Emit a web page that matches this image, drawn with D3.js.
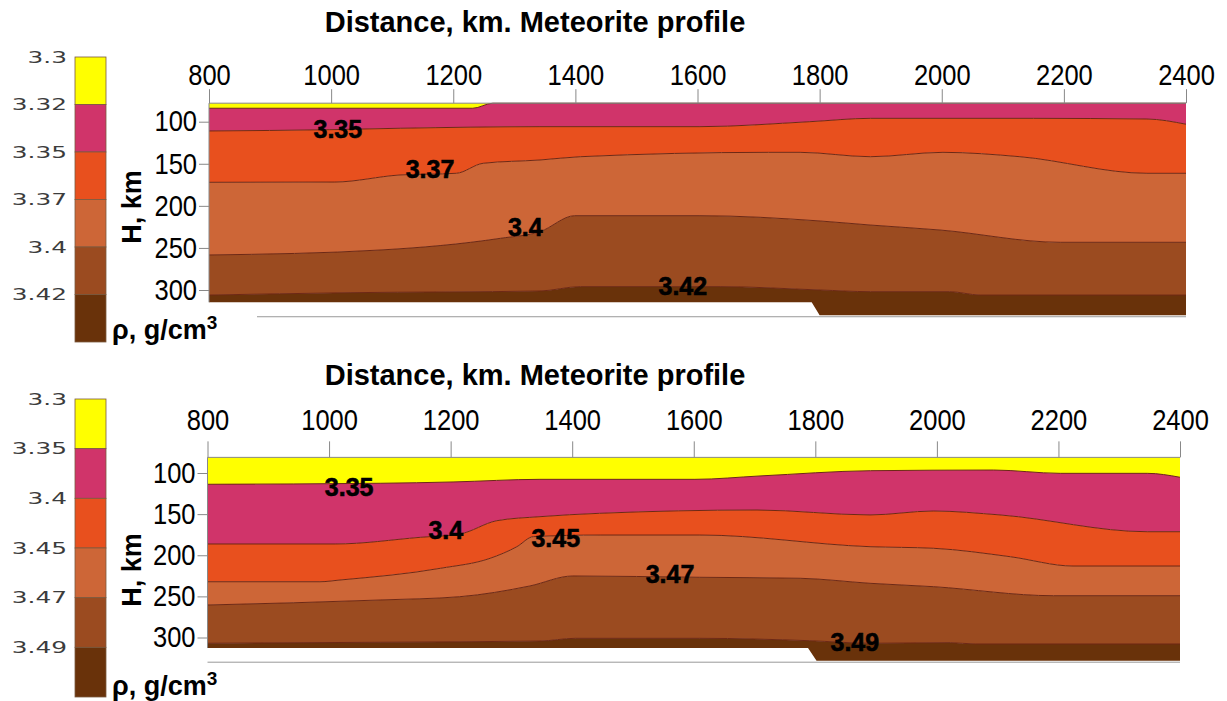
<html>
<head>
<script src="https://d3js.org/d3.v7.min.js"></script>
<style>
  body { margin: 0; background: #fff; }
  .tick text { font-family: "Liberation Sans", Arial, sans-serif; font-size: 29px; fill: #000; }
  .tick line { stroke: #888; }
  .domain { stroke: none; }
</style>
</head>
<body>
<svg id="chart" width="1227" height="701"></svg>
<script>
// distance ticks (km) and depth ticks (km)
const xTicks = [800, 1000, 1200, 1400, 1600, 1800, 2000, 2200, 2400];
const hTicks = [100, 150, 200, 250, 300];

// density legend levels
const topLevels = ["3.3", "3.32", "3.35", "3.37", "3.4", "3.42"];
const botLevels = ["3.3", "3.35", "3.4", "3.45", "3.47", "3.49"];
const bandColors = ["#ffff00", "#d0346a", "#e8501e", "#cd6637", "#9b4b20", "#69320a"];

// top section: contour lines [distance km, depth km]
const topC1 = [[800, 84], [1232, 84], [1265, 78], [2400, 78]];
const topC2 = [[800, 111], [998, 109.5], [1113, 107.8], [1342, 105.9], [1604, 105.9], [1784, 100], [1883, 96], [2150, 96], [2336, 96.8], [2400, 103]];
const topC3 = [[800, 172], [1006, 171.7], [1113, 163.3], [1205, 161.3], [1249, 149.4], [1342, 145.5], [1408, 141.6], [1716, 136.4], [1768, 136.4], [1883, 141.6], [2002, 136.4], [2128, 141.6], [2336, 161.3], [2400, 161.3]];
const topC4 = [[800, 258.4], [1080, 252.5], [1277, 238.6], [1342, 230.7], [1399, 211.7], [1604, 211.7], [1801, 218], [1883, 222.8], [1997, 228.7], [2194, 243.3], [2400, 243.3]];
const topC5 = [[800, 306], [1031, 303.2], [1342, 301.2], [1408, 296], [1637, 296], [1801, 300], [1883, 302], [2013, 302], [2063, 306], [2400, 306]];
const topBottom = [[800, 314.6], [1787, 314.6], [1800, 330], [2400, 330]];
const topLabels = [["3.35", 1011, 108.7], ["3.37", 1162, 156.2], ["3.4", 1318, 225.1], ["3.42", 1576, 295.2]];

// bottom section
const botC1 = [[800, 113.7], [1084, 112.5], [1204, 110.9], [1347, 107.7], [1602, 107.7], [1709, 103.6], [1891, 97.2], [2093, 96.4], [2203, 100.4], [2346, 100.4], [2400, 105.2]];
const botC2 = [[800, 186.3], [1010, 186.3], [1150, 178.2], [1215, 174.2], [1276, 158], [1347, 153.1], [1445, 149], [1704, 145], [1890, 151], [1994, 146.2], [2104, 151], [2346, 171.4], [2400, 171.4]];
const botC3 = [[800, 232.2], [985, 232.2], [1018, 230.1], [1183, 215.9], [1265, 203.7], [1309, 189.6], [1336, 177.4], [1446, 175.4], [1610, 175.4], [1890, 189.6], [1994, 191.5], [2121, 201.8], [2224, 213.1], [2400, 213.1]];
const botC4 = [[800, 260.5], [1084, 254.4], [1215, 250.4], [1330, 237.4], [1401, 225.2], [1610, 226.8], [1775, 228], [1890, 234.1], [1994, 238.2], [2192, 249.2], [2400, 249.2]];
const botC5 = [[800, 307], [1084, 305.8], [1347, 304.3], [1405, 301], [1610, 301], [1791, 303.9], [1890, 307], [2022, 306.3], [2063, 307.9], [2400, 307.9]];
const botBottom = [[800, 312.8], [1788, 312.8], [1802, 328.2], [2400, 328.2]];
const botLabels = [["3.35", 1033, 117], ["3.4", 1192, 169.3], ["3.45", 1373, 179], ["3.47", 1561, 222.8], ["3.49", 1865, 305.5]];

const svg = d3.select("svg#chart");
const boldFont = "Liberation Sans, Arial, sans-serif";

function drawPanel(p) {
  const g = svg.append("g");
  const x = d3.scaleLinear().domain([800, 2400]).range(p.xRange);
  const y = d3.scaleLinear().domain([100, 300]).range(p.yRange);
  const smooth = d3.line().x(d => x(d[0])).y(d => y(d[1])).curve(d3.curveMonotoneX);
  const straight = d3.line().x(d => x(d[0])).y(d => y(d[1]));

  // filled bands between contours (frame top and blanked bottom are straight edges)
  const edges = [[[800, p.hTop], [2400, p.hTop]]].concat(p.contours).concat([p.bottom]);
  for (let i = 0; i < 6; i++) {
    const upper = (i === 0 ? straight : smooth)(edges[i]);
    const lower = (i === 5 ? straight : smooth)(edges[i + 1].slice().reverse());
    g.append("path").attr("d", upper + "L" + lower.slice(1) + "Z").attr("fill", bandColors[i]);
  }
  p.contours.forEach(c => {
    g.append("path").attr("d", smooth(c)).attr("fill", "none")
      .attr("stroke", "#6e2814").attr("stroke-width", 1);
  });

  // frame
  const top = y(p.hTop);
  g.append("line").attr("x1", x(800)).attr("x2", x(2400)).attr("y1", top).attr("y2", top)
    .attr("stroke", "#888");
  g.append("line").attr("x1", x(800)).attr("x2", x(800)).attr("y1", top).attr("y2", y(p.bottom[0][1]))
    .attr("stroke", "#888");
  g.append("line").attr("x1", p.bottomLineStart).attr("x2", x(2400))
    .attr("y1", y(p.bottom[3][1]) + 1.5).attr("y2", y(p.bottom[3][1]) + 1.5)
    .attr("stroke", "#999");

  // axes
  g.append("g").attr("transform", `translate(0,${top})`)
    .call(d3.axisTop(x).tickValues(xTicks).tickSize(p.tickTop).tickPadding(p.padTop).tickFormat(d3.format("d")))
    .selectAll("text").attr("transform", "scale(0.88,1)");
  g.append("g").attr("transform", `translate(${x(800)},0)`)
    .call(d3.axisLeft(y).tickValues(hTicks).tickSize(10).tickPadding(2))
    .selectAll("text").attr("transform", "scale(0.88,1)").attr("x", -12 / 0.88);

  // contour labels
  g.selectAll("text.cl").data(p.labels).join("text")
    .attr("x", d => x(d[1])).attr("y", d => y(d[2])).attr("dy", "0.36em")
    .attr("text-anchor", "middle")
    .style("font-family", boldFont).style("font-weight", "bold")
    .style("font-size", "25px").style("stroke", "#000").style("stroke-width", 0.6)
    .text(d => d[0]);

  // titles
  g.append("text").attr("x", 535).attr("y", p.titleY).attr("text-anchor", "middle")
    .style("font-family", boldFont).style("font-weight", "bold")
    .style("font-size", "29px").text("Distance, km. Meteorite profile");
  g.append("text").attr("transform", `translate(141,${p.hLabelY}) rotate(-90)`)
    .attr("text-anchor", "middle")
    .style("font-family", boldFont).style("font-weight", "bold")
    .style("font-size", "27px").text("H, km");

  // legend
  const ly = d3.scaleLinear().domain([0, 6]).range(p.legendRange);
  d3.range(6).forEach(i => {
    g.append("rect").attr("x", 75).attr("y", ly(i)).attr("width", 31).attr("height", ly(i + 1) - ly(i))
      .attr("fill", bandColors[i]).attr("stroke", "#7a5a40").attr("stroke-width", 0.8);
  });
  p.levels.forEach((t, i) => {
    g.append("text").attr("transform", `translate(67,${ly(i)}) scale(1.55,1)`)
      .attr("text-anchor", "end").attr("dy", "0.36em")
      .style("font-family", "DejaVu Sans, sans-serif").style("font-size", "16px")
      .style("fill", "#3c3c3c").text(t);
  });
  const rho = g.append("text").attr("x", 112).attr("y", p.rhoY)
    .style("font-family", boldFont).style("font-weight", "bold").style("font-size", "27px");
  rho.append("tspan").text("ρ, g/cm");
  rho.append("tspan").attr("dy", -10).style("font-size", "19px").text("3");
}

drawPanel({
  xRange: [209, 1186], yRange: [121.7, 290], hTop: 78,
  contours: [topC1, topC2, topC3, topC4, topC5], bottom: topBottom, labels: topLabels,
  tickTop: 14, padTop: 4, bottomLineStart: 257, titleY: 32, hLabelY: 207,
  legendRange: [57, 342], levels: topLevels, rhoY: 339
});
drawPanel({
  xRange: [207.5, 1180], yRange: [473, 637.5], hTop: 81,
  contours: [botC1, botC2, botC3, botC4, botC5], bottom: botBottom, labels: botLabels,
  tickTop: 16, padTop: 11, bottomLineStart: 207.5, titleY: 385, hLabelY: 570,
  legendRange: [399, 697], levels: botLevels, rhoY: 695
});
</script>
</body>
</html>
